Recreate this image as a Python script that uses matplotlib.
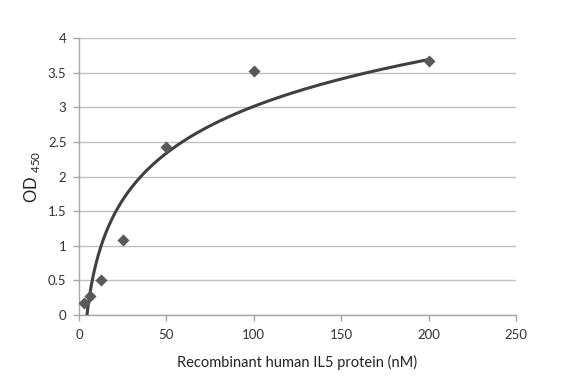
import numpy as np
import matplotlib
matplotlib.use("Agg")
import matplotlib.pyplot as plt

# concentrations (nM) and OD450 readings
conc = [3.125, 6.25, 12.5, 25, 50, 100, 200]
od450 = [0.17, 0.27, 0.50, 1.08, 2.42, 3.52, 3.67]

x_ticks = [0, 50, 100, 150, 200, 250]
y_ticks = [0, 0.5, 1, 1.5, 2, 2.5, 3, 3.5, 4]

plt.rcParams["font.family"] = ["Lato", "DejaVu Sans"]

fig = plt.figure(figsize=(5.82, 3.82), dpi=100)
ax = fig.add_axes([0.1357, 0.1754, 0.7509, 0.7251])

# logarithmic trendline, as Excel does it
a, b = np.polyfit(np.log(conc), od450, 1)
xs = np.linspace(min(conc), max(conc), 400)
ax.plot(xs, a * np.log(xs) + b, color="#404040", linewidth=2.2, zorder=3)

ax.scatter(conc, od450, marker="D", s=38, color="#595959", zorder=4, linewidths=0)

ax.set_xlim(0, 250)
ax.set_ylim(0, 4)
ax.set_xticks(x_ticks)
ax.set_yticks(y_ticks)
ax.set_xticklabels([str(t) for t in x_ticks])
ax.set_yticklabels([f"{t:g}" for t in y_ticks])
ax.grid(axis="y", color="#c0c0c0", linewidth=1.0)
ax.set_axisbelow(True)

for s in ["top", "right"]:
    ax.spines[s].set_visible(False)
for s in ["left", "bottom"]:
    ax.spines[s].set_color("#a6a6a6")
    ax.spines[s].set_linewidth(1.0)
ax.tick_params(axis="both", colors="#a6a6a6", labelcolor="#333333",
               labelsize=9.5, length=4, width=1.0)
ax.tick_params(axis="x", direction="out", pad=6)
ax.tick_params(axis="y", direction="out", pad=5)

ax.set_xlabel("Recombinant human IL5 protein (nM)", fontsize=10.5,
              color="#222222", labelpad=10)
ax.set_ylabel(r"OD $_{\mathregular{450}}$", fontsize=12, color="#222222", labelpad=4)

fig.savefig("out.png", dpi=100)
